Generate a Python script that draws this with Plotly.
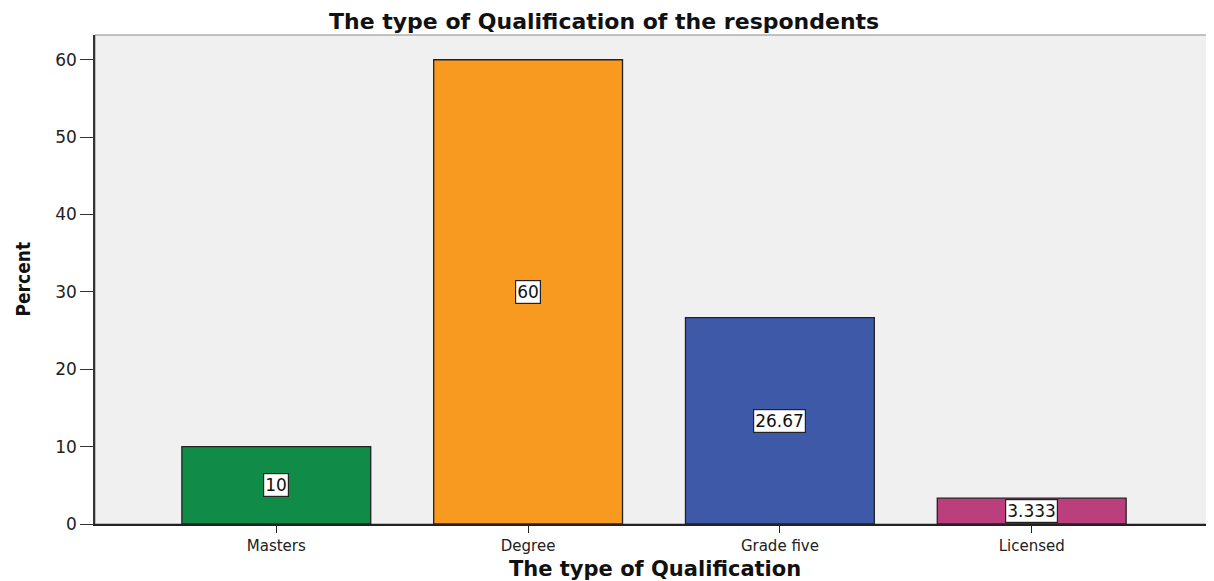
import plotly.graph_objects as go

categories = ["Masters", "Degree", "Grade five", "Licensed"]
percent = [10, 60, 26.67, 3.333]
label_text = ["10", "60", "26.67", "3.333"]
colors = ["#108C48", "#F89A1F", "#3F59A9", "#BB3F7D"]
y_ticks = [0, 10, 20, 30, 40, 50, 60]

WIDE = "DejaVu Sans, Verdana, Arial"

fig = go.Figure()
fig.add_trace(go.Bar(
    x=categories, y=percent, width=0.75,
    marker=dict(color=colors, line=dict(color="#222222", width=1.3)),
    showlegend=False, hoverinfo="x+y",
))

for c, v, t in zip(categories, percent, label_text):
    fig.add_annotation(
        x=c, y=v / 2, text=t, showarrow=False,
        font=dict(family=WIDE, size=17, color="#111111"),
        bgcolor="white", bordercolor="#222222", borderwidth=1.2, borderpad=1,
    )

# page body adds an 8px offset; figure sized so the plot lands where the reference has it
fig.update_layout(
    width=1206, height=573,
    margin=dict(l=87, r=2, t=27, b=57, autoexpand=False),
    paper_bgcolor="white", plot_bgcolor="#F0F0F0",
    font=dict(family=WIDE, size=16, color="#222222"),
)
# title
fig.add_annotation(xref="paper", yref="paper", x=0.456, y=1, yshift=14, xanchor="center", yanchor="middle",
                   text="<b>The type of Qualification of the respondents</b>", showarrow=False,
                   font=dict(family=WIDE, size=22, color="#111111"))
# x title
fig.add_annotation(xref="paper", yref="paper", x=0.501, y=0, yshift=-45, xanchor="center", yanchor="middle",
                   text="<b>The type of Qualification</b>", showarrow=False,
                   font=dict(family=WIDE, size=21, color="#111111"))
# y title
fig.add_annotation(xref="paper", yref="paper", x=0, xshift=-73, y=0.5, xanchor="center", yanchor="middle",
                   text="<b>Percent</b>", textangle=-90, showarrow=False,
                   font=dict(family="Liberation Sans Narrow, DejaVu Sans Condensed, Arial", size=19, color="#111111"))

fig.update_xaxes(
    range=[-0.72, 3.716], showgrid=False, showline=True, linecolor="#222222", linewidth=1.5,
    ticks="outside", ticklen=7, tickcolor="#222222", automargin=False,
    tickfont=dict(family=WIDE, size=15, color="#222222"),
)
fig.update_yaxes(
    range=[0, 63.2], showgrid=False, showline=True, linecolor="#333333", linewidth=1.5,
    ticks="outside", ticklen=13, tickcolor="#333333", tickvals=y_ticks, automargin=False,
    tickfont=dict(family=WIDE, size=17, color="#222222"), zeroline=False,
)
# thin gray frame on top/right
fig.add_shape(type="rect", xref="paper", yref="paper", x0=0, y0=0, x1=1, y1=1,
              line=dict(color="#888888", width=1), layer="below")

fig.write_html("out.html")
